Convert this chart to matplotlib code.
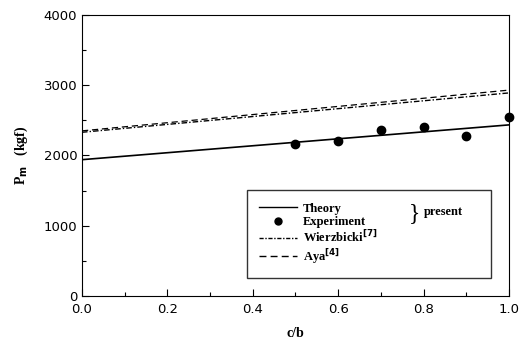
import matplotlib
matplotlib.use("Agg")
import matplotlib.pyplot as plt
from matplotlib.ticker import MultipleLocator, FormatStrFormatter
from matplotlib.lines import Line2D

# values
line_x = [0.0, 1.0]
theory_y = [1940, 2435]
wierzbicki_y = [2330, 2890]
aya_y = [2350, 2930]
exp_x = [0.5, 0.6, 0.7, 0.8, 0.9, 1.0]
exp_y = [2170, 2200, 2365, 2405, 2270, 2550]

serif = {"family": "Liberation Serif", "weight": "bold"}

fig = plt.figure(figsize=(5.29, 3.47), dpi=100)
ax = fig.add_axes([0.155, 0.147, 0.807, 0.81])

ax.plot(line_x, theory_y, color="k", lw=1.2)
ax.plot(line_x, wierzbicki_y, color="k", lw=1.0, ls=(0, (4, 1.5, 1, 1.5)))
ax.plot(line_x, aya_y, color="k", lw=0.9, ls=(0, (5, 3)))
ax.plot(exp_x, exp_y, "o", color="k", ms=6, clip_on=False, zorder=5)

ax.set_xlim(0, 1.0)
ax.set_ylim(0, 4000)
ax.xaxis.set_major_locator(MultipleLocator(0.2))
ax.xaxis.set_minor_locator(MultipleLocator(0.1))
ax.xaxis.set_major_formatter(FormatStrFormatter("%.1f"))
ax.yaxis.set_major_locator(MultipleLocator(1000))
ax.yaxis.set_minor_locator(MultipleLocator(500))
ax.tick_params(which="both", direction="in", labelsize=9.5, width=0.8)
ax.tick_params(which="major", length=5)
ax.tick_params(which="minor", length=3)
ax.xaxis.set_tick_params(pad=5)

ax.set_xlabel("c/b", fontdict=serif, fontsize=10, labelpad=8)
ax.set_ylabel(r"P$_\mathbf{m}$   (kgf)", fontdict=serif, fontsize=10, labelpad=10)

handles = [
    Line2D([], [], color="k", lw=1.0),
    Line2D([], [], color="k", marker="o", ls="none", ms=5),
    Line2D([], [], color="k", lw=1.0, ls=(0, (3, 1.2, 1, 1.2))),
    Line2D([], [], color="k", lw=1.0, ls=(0, (5, 3))),
]
labels = ["Theory", "Experiment", r"Wierzbicki$^{\mathbf{[7]}}$", r"Aya$^{\mathbf{[4]}}$"]
leg = ax.legend(handles, labels, loc="upper left", bbox_to_anchor=(0.386, 0.068, 0.572, 0.309),
                mode="expand", frameon=True, fancybox=False, edgecolor="k",
                prop={"family": "Liberation Serif", "weight": "bold", "size": 9},
                handlelength=3.0, labelspacing=0.12, borderaxespad=0, borderpad=1.0,
                handletextpad=0.5)
leg.get_frame().set_linewidth(1.0)
leg.set_zorder(6)
ax.text(0.78, 0.295, "}", transform=ax.transAxes, fontsize=17, family="Liberation Serif",
        va="center", ha="center", zorder=10)
ax.text(0.80, 0.30, "present", transform=ax.transAxes, fontdict=serif, fontsize=9,
        va="center", zorder=10)

fig.savefig("out.png", dpi=100)
